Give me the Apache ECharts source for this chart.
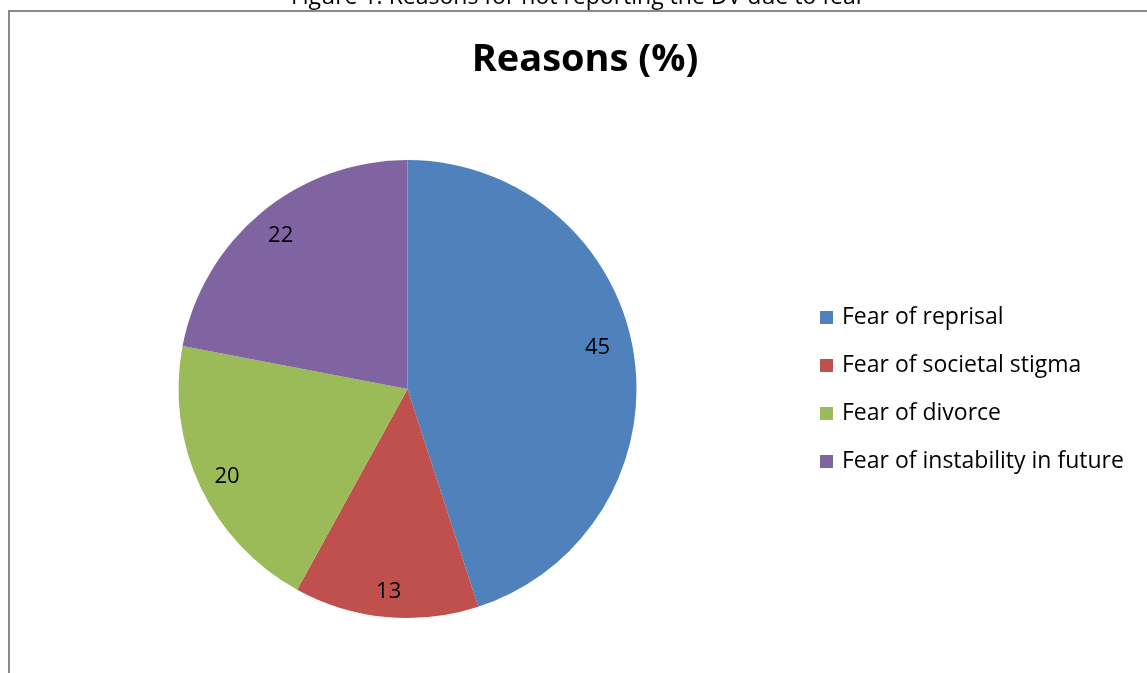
<!DOCTYPE html>
<html>
<head>
<meta charset="utf-8">
<script src="https://cdn.jsdelivr.net/npm/echarts@6/dist/echarts.min.js"></script>
<style>
html,body{margin:0;padding:0;background:#fff;}
#chart{width:1147px;height:673px;}
</style>
</head>
<body>
<div id="chart"></div>
<script>
const categories = ['Fear of reprisal', 'Fear of societal stigma', 'Fear of divorce', 'Fear of instability in future'];
const values = [45, 13, 20, 22];
const colors = ['#4F81BD', '#C0504D', '#9BBB59', '#8064A2'];
const chartTitle = 'Reasons (%)';
const captionText = 'Figure 1: Reasons for not reporting the DV due to fear';

const FONT = '"Open Sans", sans-serif';
const chart = echarts.init(document.getElementById('chart'));
const data = categories.map((c, i) => ({ name: c, value: values[i], itemStyle: { color: colors[i] } }));
const center = [407.5, 389];
// Excel's best-fit nudge for the labels
const labelNudges = [[-8, -10], [0, 3], [1, 2], [1, 1]];
chart.setOption({
  animation: false,
  backgroundColor: '#fff',
  title: {
    text: chartTitle,
    left: 580,
    top: 36,
    textAlign: 'center',
    textStyle: { fontFamily: FONT, fontWeight: 'bold', fontSize: 38, color: '#000' }
  },
  legend: {
    orient: 'vertical',
    left: 815,
    top: 301,
    itemWidth: 13,
    itemHeight: 13,
    itemGap: 25,
    icon: 'rect',
    data: categories.map((c, i) => ({ name: c, itemStyle: { color: colors[i] } })),
    textStyle: { fontFamily: FONT, fontSize: 23, color: '#000', lineHeight: 22, padding: [0, 0, 0, 4] }
  },
  graphic: [
    {
      type: 'rect', silent: true,
      shape: { x: 9, y: 11, width: 1300, height: 800 },
      style: { fill: 'none', stroke: '#8a8a8a', lineWidth: 2 }
    },
    {
      type: 'text', silent: true,
      style: { text: captionText, x: 578, y: -2.6, align: 'center', verticalAlign: 'middle', font: '23px "Open Sans", sans-serif', fill: '#000' }
    }
  ],
  series: [
    {
      type: 'pie',
      center: center,
      radius: [0, 229],
      startAngle: 90,
      clockwise: true,
      silent: true,
      label: { show: false },
      labelLine: { show: false },
      data: data
    },
    {
      type: 'pie',
      center: center,
      radius: [166, 229],
      startAngle: 90,
      clockwise: true,
      silent: true,
      itemStyle: { color: 'rgba(0,0,0,0)' },
      label: { show: true, position: 'inside', formatter: '{c}', fontFamily: FONT, fontSize: 22, color: '#000' },
      labelLine: { show: false },
      data: categories.map((c, i) => ({ name: c, value: values[i], label: { offset: labelNudges[i] } }))
    }
  ]
});
</script>
</body>
</html>
